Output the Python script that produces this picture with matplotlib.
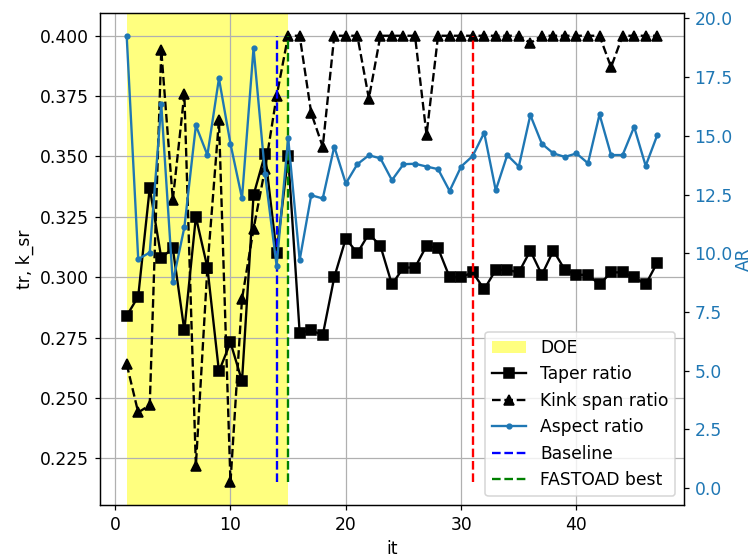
#! /usr/bin/env python

import matplotlib
matplotlib.use('Agg')
import matplotlib.pyplot as plt

# Optimisation history

it = list(range(1, 48))

## Taper ratio
taper = [
    0.284, 0.292, 0.337, 0.308, 0.312, 0.278, 0.325, 0.304, 0.261, 0.273,
    0.257, 0.334, 0.351, 0.310, 0.350, 0.277, 0.278, 0.276, 0.300, 0.316,
    0.310, 0.318, 0.313, 0.297, 0.304, 0.304, 0.313, 0.312, 0.300, 0.300,
    0.302, 0.295, 0.303, 0.303, 0.302, 0.311, 0.301, 0.311, 0.303, 0.301,
    0.301, 0.297, 0.302, 0.302, 0.300, 0.297, 0.306
]

## Kink span ratio
kink = [
    0.264, 0.244, 0.247, 0.394, 0.332, 0.376, 0.222, 0.304, 0.365, 0.215,
    0.291, 0.320, 0.345, 0.375, 0.400, 0.400, 0.368, 0.354, 0.400, 0.400,
    0.400, 0.374, 0.400, 0.400, 0.400, 0.400, 0.359, 0.400, 0.400, 0.400,
    0.400, 0.400, 0.400, 0.400, 0.400, 0.397, 0.400, 0.400, 0.400, 0.400,
    0.400, 0.400, 0.387, 0.400, 0.400, 0.400, 0.400
]

## Aspect ratio
ar = [
    19.26, 9.75, 10.03, 16.34, 8.76, 11.10, 15.44, 14.18, 17.44, 14.66,
    12.34, 18.74, 13.36, 9.47, 14.92, 9.71, 12.47, 12.33, 14.54, 12.97,
    13.79, 14.17, 14.04, 13.11, 13.79, 13.81, 13.69, 13.58, 12.65, 13.69,
    14.14, 15.13, 12.68, 14.18, 13.69, 15.88, 14.66, 14.25, 14.10, 14.25,
    13.83, 15.91, 14.18, 14.18, 15.38, 13.72, 15.02
]

doe_start, doe_end = 1, 15
baseline_it = 14
best_it = 15
other_it = 31

plt.rcParams['font.size'] = 11

dpi = 112
fig, ax1 = plt.subplots(figsize=(753 / dpi, 559 / dpi), dpi=dpi)
fig.subplots_adjust(left=0.133, right=0.908, top=0.976, bottom=0.097)

doe = ax1.axvspan(doe_start, doe_end, color='yellow', alpha=0.5, lw=0, label='DOE')
l1, = ax1.plot(it, taper, 'ks-', label='Taper ratio')
l2, = ax1.plot(it, kink, 'k^--', label='Kink span ratio')
ymin, ymax = min(kink), max(kink)
b = ax1.vlines(baseline_it, ymin, ymax, colors='b', linestyles='--', label='Baseline')
g = ax1.vlines(best_it, ymin, ymax, colors='g', linestyles='--', label='FASTOAD best')
ax1.vlines(other_it, ymin, ymax, colors='r', linestyles='--')
ax1.set_xlabel('it')
ax1.set_ylabel('tr, k_sr')
ax1.grid(True)

ax2 = ax1.twinx()
l3, = ax2.plot(it, ar, '.-', color='tab:blue', label='Aspect ratio')
ax2.set_ylabel('AR', color='tab:blue', labelpad=1)
ax2.tick_params(axis='y', labelcolor='tab:blue')
ax2.set_ylim(-0.71, 20.21)

ax2.legend([doe, l1, l2, l3, b, g],
           ['DOE', 'Taper ratio', 'Kink span ratio', 'Aspect ratio',
            'Baseline', 'FASTOAD best'],
           loc='lower right')

plt.savefig('out.png')
